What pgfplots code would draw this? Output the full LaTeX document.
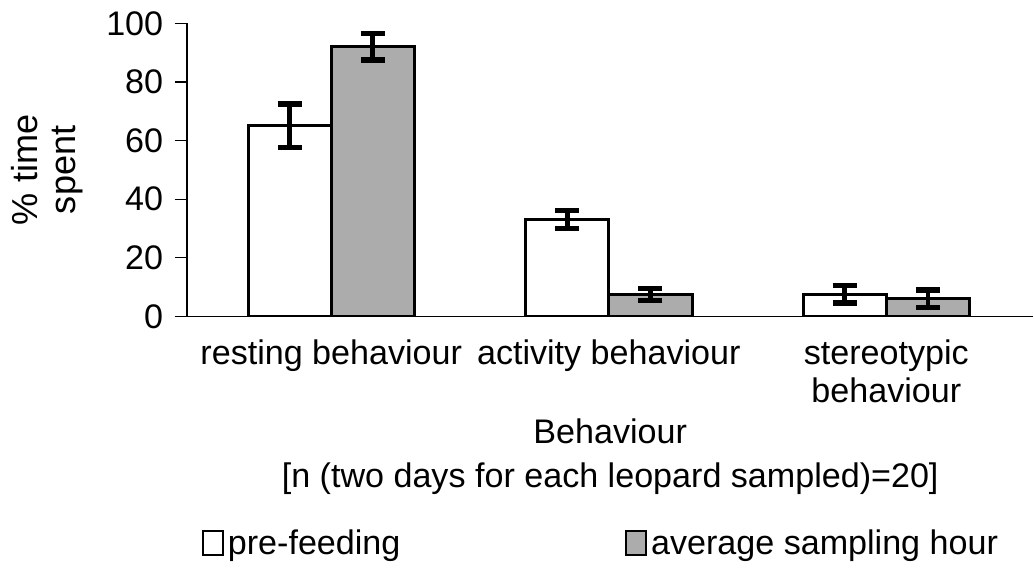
\documentclass[border=0pt]{standalone}
\usepackage{pgfplots}
\pgfplotsset{compat=1.18}
\usepackage{fontspec}
\setmainfont{Liberation Sans}

\begin{document}
\fontsize{17}{20}\selectfont
\begin{tikzpicture}
\begin{axis}[
  scale only axis,
  width=422pt, height=146pt,
  ymin=0, ymax=100, ytick={0,20,...,100},
  xmin=-0.52, xmax=2.53,
  xtick={0,1,2},
  xticklabels={resting behaviour, activity behaviour, stereotypic\\behaviour},
  xticklabel style={align=center, font=\fontsize{17}{19}\selectfont},
  x tick style={draw=none},
  y tick style={black, line width=0.6pt},
  tick align=outside, major tick length=6pt,
  axis x line*=bottom, axis y line*=left,
  axis line style={line width=0.6pt},
  tick label style={font=\fontsize{17}{19}\selectfont},
  /pgf/number format/assume math mode=true,
  ylabel={\% time\\spent},
  ylabel style={align=center, font=\fontsize{18}{19}\selectfont},
  xlabel={Behaviour\\{}[n (two days for each leopard sampled)=20]},
  xlabel style={align=center, font=\fontsize{17}{22}\selectfont, yshift=4pt},
  ybar, bar width=0.30,
  legend style={at={(0.01,-0.70)}, anchor=north west, draw=none, fill=none,
                legend columns=2, /tikz/every even column/.append style={column sep=110pt},
                /tikz/every odd column/.append style={inner sep=1pt},
                font=\fontsize{17}{19}\selectfont},
  legend image code/.code={\draw[#1, line width=1pt] (0pt,-5pt) rectangle (10pt,7pt);},
]
\addplot[draw=black, line width=1.5pt, fill=white, bar shift=-0.15,
  error bars/.cd, y dir=both, y explicit,
  error bar style={line width=2.4pt},
  error mark options={rotate=90, mark size=6pt, line width=2.6pt}]
  coordinates {(0,65) +- (0,7.5) (1,33) +- (0,3) (2,7.5) +- (0,3)};
\addlegendentry{pre-feeding}
\addplot[draw=black, line width=1.5pt, fill=gray!65, bar shift=0.15,
  error bars/.cd, y dir=both, y explicit,
  error bar style={line width=2.4pt},
  error mark options={rotate=90, mark size=6pt, line width=2.6pt}]
  coordinates {(0,92) +- (0,4.5) (1,7.5) +- (0,2) (2,6) +- (0,3)};
\addlegendentry{average sampling hour}
\end{axis}
\end{tikzpicture}
\end{document}
